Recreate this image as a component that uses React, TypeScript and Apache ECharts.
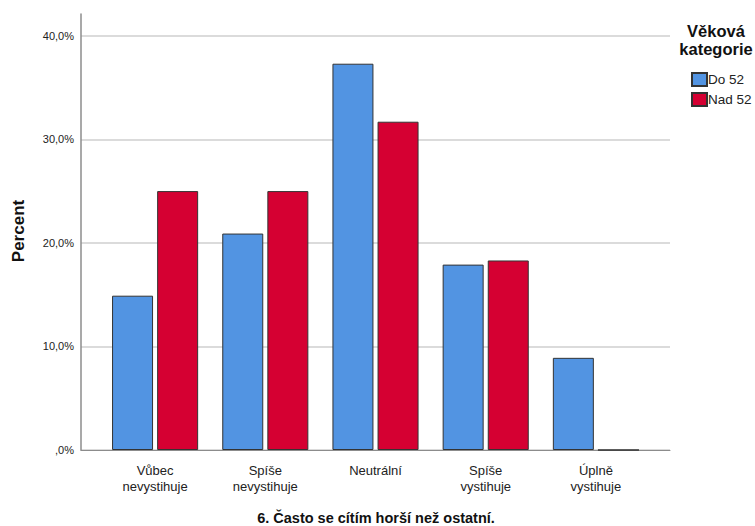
import React, { useEffect, useRef } from "react";
import * as echarts from "echarts";

const categories = ["Vůbec\nnevystihuje", "Spíše\nnevystihuje", "Neutrální", "Spíše\nvystihuje", "Úplně\nvystihuje"];
const seriesNames = ["Do 52", "Nad 52"];
const do52 = [14.9, 20.9, 37.3, 17.9, 8.9];
const nad52 = [25.0, 25.0, 31.7, 18.3, 0];
const yTicks = [0, 10, 20, 30, 40];
const colors = ["#5294e2", "#d50032"];
const FONT = "'Liberation Sans', Arial, sans-serif";

function fmt(v: number) {
  if (v === 0) return ",0%";
  return v.toFixed(1).replace(".", ",") + "%";
}

export default function App() {
  const ref = useRef<HTMLDivElement>(null);
  useEffect(() => {
    const chart = echarts.init(ref.current!, null, { renderer: "svg" });
    const yMax = 42.1;
    chart.setOption({
      animation: false,
      backgroundColor: "#ffffff",
      textStyle: { fontFamily: FONT },
      grid: [
        { left: 81, right: 85, top: 14, bottom: 76 },
        { left: 100, right: 104, top: 14, bottom: 76 },
      ],
      xAxis: [
        {
          type: "value", gridIndex: 0, min: 0, max: 1,
          axisLine: { show: true, onZero: false, lineStyle: { color: "#8c8c8c", width: 1 } },
          axisTick: { show: false }, axisLabel: { show: false }, splitLine: { show: false },
        },
        {
          type: "category", gridIndex: 1, data: categories,
          axisLine: { show: false }, axisTick: { show: false },
          axisLabel: { color: "#222", fontSize: 13, lineHeight: 16, margin: 12, fontFamily: FONT, interval: 0 },
        },
      ],
      yAxis: [
        {
          type: "value", gridIndex: 0, min: 0, max: yMax, interval: 10,
          axisLine: { show: true, lineStyle: { color: "#8c8c8c", width: 1.5 } },
          axisTick: { show: false },
          splitLine: { show: true, showMaxLine: false, lineStyle: { color: "#cfcfcf", width: 1.5 } },
          axisLabel: {
            color: "#222", fontSize: 11, margin: 7, fontFamily: FONT,
            showMaxLabel: false,
            formatter: (v: number) => (yTicks.includes(v) ? fmt(v) : ""),
          },
        },
        {
          type: "value", gridIndex: 1, min: 0, max: yMax,
          show: false, splitLine: { show: false },
        },
      ],
      legend: {
        orient: "vertical", left: 686, top: 67, itemWidth: 15, itemHeight: 13, itemGap: 5,
        icon: "rect",
        data: seriesNames,
        textStyle: { fontSize: 13.5, color: "#222", fontFamily: FONT, padding: [0, 0, 0, -4] },
      },
      series: [
        {
          name: seriesNames[0], type: "bar", xAxisIndex: 1, yAxisIndex: 1, data: do52,
          barWidth: 41, barGap: "10%",
          itemStyle: { color: colors[0], borderColor: "#333", borderWidth: 1 },
        },
        {
          name: seriesNames[1], type: "bar", xAxisIndex: 1, yAxisIndex: 1, data: nad52,
          barWidth: 41, barGap: "10%",
          itemStyle: { color: colors[1], borderColor: "#333", borderWidth: 1 },
        },
      ],
      graphic: [
        {
          type: "text", x: 716, y: 31,
          style: { text: "Věková", font: `bold 16.5px ${FONT}`, fill: "#111", align: "center", verticalAlign: "middle" },
        },
        {
          type: "text", x: 716, y: 49,
          style: { text: "kategorie", font: `bold 16.5px ${FONT}`, fill: "#111", align: "center", verticalAlign: "middle" },
        },
        {
          type: "text", x: 18, y: 231, rotation: Math.PI / 2,
          style: { text: "Percent", font: `bold 17px ${FONT}`, fill: "#111", align: "center", verticalAlign: "middle" },
        },
        {
          type: "text", x: 376, y: 518,
          style: { text: "6. Často se cítím horší než ostatní.", font: `bold 14.5px ${FONT}`, fill: "#111", align: "center", verticalAlign: "middle" },
        },
      ],
    });
    return () => chart.dispose();
  }, []);
  return <div ref={ref} style={{ position: "absolute", left: 0, top: 0, width: 755, height: 526 }} />;
}
